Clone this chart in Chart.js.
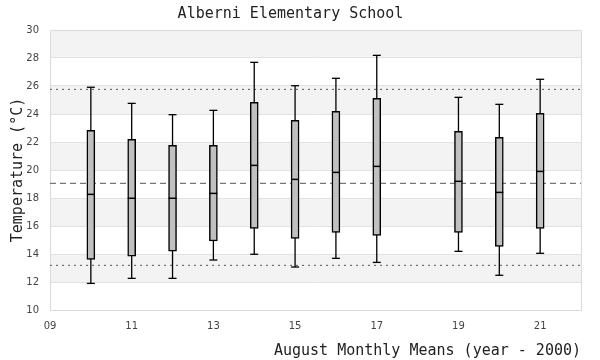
<!DOCTYPE html>
<html><head><meta charset="utf-8">
<script src="https://cdn.jsdelivr.net/npm/chart.js@4"></script>
<style>html,body{margin:0;padding:0;background:#fff}#wrap{width:600px;height:360px;position:relative}</style>
</head><body><div id="wrap"><canvas id="c" width="600" height="360"></canvas></div>
<script>
// ---- data ----
const years   = [10, 11, 12, 13, 14, 15, 16, 17, 19, 20, 21];
const mins    = [11.90, 12.26, 12.26, 13.57, 13.98, 13.07, 13.69, 13.40, 14.19, 12.48, 14.05];
const q1s     = [13.62, 13.84, 14.21, 14.93, 15.83, 15.12, 15.55, 15.33, 15.55, 14.55, 15.83];
const medians = [18.26, 17.98, 17.98, 18.33, 20.33, 19.33, 19.83, 20.26, 19.19, 18.40, 19.90];
const q3s     = [22.83, 22.19, 21.76, 21.76, 24.83, 23.55, 24.19, 25.12, 22.76, 22.33, 24.05];
const maxs    = [25.91, 24.76, 23.95, 24.26, 27.69, 26.02, 26.55, 28.19, 25.19, 24.69, 26.48];
const meanLine  = 19.05;
const upperLine = 25.76;
const lowerLine = 13.19;
const xRange = [9, 22];
const xTicks = [9, 11, 13, 15, 17, 19, 21];
const yTicks = [10, 12, 14, 16, 18, 20, 22, 24, 26, 28, 30];
const bands  = [[12, 14], [16, 18], [20, 22], [24, 26], [28, 30]];
const titleText  = 'Alberni Elementary School';
const xTitleText = 'August Monthly Means (year - 2000)';
const yTitleText = 'Temperature (°C)';

// ---- derived datasets ----
const whiskerData = [];
years.forEach((x, i) => {
  whiskerData.push({x: x, y: mins[i]}, {x: x, y: maxs[i]}, {x: x, y: null});
});
const boxData = years.map((x, i) => ({x: x, y: [q1s[i], q3s[i]]}));
const medianData = years.map((x, i) => ({x: x, y: medians[i]}));
const capData = years.flatMap((x, i) => [{x: x, y: mins[i]}, {x: x, y: maxs[i]}]);
const hLine = v => [{x: xRange[0], y: v}, {x: xRange[1], y: v}];

const bandPlugin = {
  id: 'bands',
  beforeDraw(chart) {
    const {ctx, chartArea: a, scales: {y}} = chart;
    ctx.save();
    ctx.fillStyle = '#f3f3f3';
    bands.forEach(([lo, hi]) => {
      const t = y.getPixelForValue(hi), b = y.getPixelForValue(lo);
      ctx.fillRect(a.left, t, a.right - a.left, b - t);
    });
    ctx.restore();
  },
  beforeDatasetsDraw(chart) {
    const {ctx, chartArea: a} = chart;
    ctx.save();
    ctx.strokeStyle = '#dcdcdc';
    ctx.lineWidth = 1;
    ctx.strokeRect(Math.round(a.left) + 0.5, Math.round(a.top) + 0.5, Math.round(a.right - a.left), Math.round(a.bottom - a.top));
    ctx.restore();
  }
};

const monoFont = {family: 'DejaVu Sans Mono', size: 15, weight: 'normal'};

new Chart(document.getElementById('c'), {
  type: 'bar',
  data: {
    datasets: [
      {type: 'line', data: hLine(meanLine), borderColor: '#555', borderWidth: 1, borderDash: [6, 4], pointRadius: 0, order: 6},
      {type: 'line', data: hLine(upperLine), borderColor: '#555', borderWidth: 1, borderDash: [2, 4], pointRadius: 0, order: 6},
      {type: 'line', data: hLine(lowerLine), borderColor: '#555', borderWidth: 1, borderDash: [2, 4], pointRadius: 0, order: 6},
      {type: 'line', data: whiskerData, borderColor: '#000', borderWidth: 1.3, pointRadius: 0, spanGaps: false, order: 5},
      {type: 'bar', data: boxData, backgroundColor: '#c0c0c0', borderColor: '#000', borderWidth: 1.5, borderSkipped: false, barThickness: 8, grouped: false, order: 4},
      {type: 'scatter', data: medianData, pointStyle: 'line', radius: 4, borderColor: '#000', borderWidth: 1.5, order: 1},
      {type: 'scatter', data: capData, pointStyle: 'line', radius: 4, borderColor: '#000', borderWidth: 1.3, order: 1}
    ]
  },
  options: {
    responsive: false,
    animation: false,
    events: [],
    layout: {padding: {left: 0, right: 19, top: 0, bottom: 0}},
    plugins: {
      legend: {display: false},
      tooltip: {enabled: false},
      title: {
        display: true, text: titleText, color: '#222',
        font: monoFont,
        padding: {top: 5, bottom: 7}
      }
    },
    scales: {
      x: {
        type: 'linear', min: xRange[0], max: xRange[1], offset: false,
        afterBuildTicks: s => { s.ticks = xTicks.map(v => ({value: v})); },
        afterFit: s => { s.height = 50; },
        grid: {display: false, drawTicks: false},
        border: {display: false},
        ticks: {
          padding: 10, color: '#444', maxRotation: 0, autoSkip: false,
          font: {family: 'DejaVu Sans', size: 10},
          callback: v => String(v).padStart(2, '0')
        },
        title: {
          display: true, text: xTitleText, align: 'end', color: '#222',
          font: monoFont,
          padding: {top: 5, bottom: 0}
        }
      },
      y: {
        type: 'linear', min: 10, max: 30,
        afterBuildTicks: s => { s.ticks = yTicks.map(v => ({value: v})); },
        afterFit: s => { s.width = 50; },
        grid: {color: '#e2e2e2', drawTicks: false, lineWidth: 1},
        border: {display: false},
        ticks: {
          padding: 11, color: '#444', autoSkip: false,
          font: {family: 'DejaVu Sans', size: 10}
        },
        title: {
          display: true, text: yTitleText, color: '#222',
          font: monoFont,
          padding: {top: 9, bottom: 0}
        }
      }
    }
  },
  plugins: [bandPlugin]
});
</script>
</body></html>
